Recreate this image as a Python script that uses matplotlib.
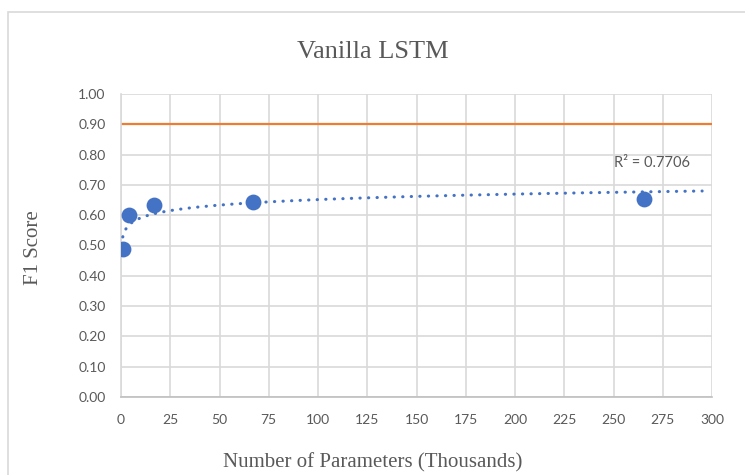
import numpy as np
import matplotlib
matplotlib.use("Agg")
import matplotlib.pyplot as plt
from matplotlib.patches import Rectangle

# data
params_k = [0.9, 4.1, 16.9, 66.8, 265.6]      # Number of Parameters (Thousands)
f1_score = [0.49, 0.60, 0.634, 0.643, 0.652]
target_f1 = 0.90
r2_label = "R² = 0.7706"
x_ticks = list(range(0, 301, 25))
y_ticks = [i / 10 for i in range(11)]

blue = "#4472C4"
orange = "#ED7D31"
grid_c = "#D9D9D9"
text_c = "#595959"
serif = ["Liberation Serif", "DejaVu Serif"]
tickfont = ["Lato", "DejaVu Sans"]

fig = plt.figure(figsize=(7.45, 4.75), dpi=100)
# chart area border (runs off the right/bottom edge like the screenshot)
fig.patches.append(Rectangle((8 / 745, -0.05), 1.0, 1 - 12 / 475 + 0.05,
                             transform=fig.transFigure, fill=False,
                             edgecolor=grid_c, linewidth=1.2))

ax = fig.add_axes([121 / 745, 1 - 397 / 475, 591 / 745, 303 / 475])

# log trendline, like Excel's
b, a = np.polyfit(np.log(params_k), f1_score, 1)
xt = np.linspace(min(params_k), 295, 400)
ax.plot(xt, a + b * np.log(xt), color=blue, lw=2.2,
        linestyle=(0, (0.1, 2.7)), dash_capstyle="round", zorder=3)

ax.axhline(target_f1, color=orange, lw=1.6, zorder=2)
ax.scatter(params_k, f1_score, s=130, color=blue, zorder=4, linewidths=0)

ax.text(250, 0.76, r2_label, fontsize=10.5, color=text_c, family=tickfont)

ax.set_xlim(0, 300)
ax.set_ylim(0, 1)
ax.set_xticks(x_ticks)
ax.set_yticks(y_ticks)
ax.set_yticklabels([f"{v:.2f}" for v in y_ticks])
ax.grid(True, color=grid_c, lw=1.2)
ax.set_axisbelow(True)
ax.tick_params(length=0, colors=text_c, labelsize=10)
ax.tick_params(axis="x", pad=12.5)
ax.tick_params(axis="y", pad=11)
for lab in ax.get_xticklabels() + ax.get_yticklabels():
    lab.set_family(tickfont)
for s in ["top", "right"]:
    ax.spines[s].set_visible(False)
ax.spines["left"].set_color(grid_c)
ax.spines["bottom"].set_color("#BFBFBF")
ax.spines["left"].set_linewidth(1.2)
ax.spines["bottom"].set_linewidth(1.2)

# title and axis titles centred on the chart area, as Excel does
fig.text(0.5, 1 - 52 / 475, "Vanilla LSTM", fontsize=19, color=text_c,
         family=serif, ha="center", va="center")
fig.text(0.5, 1 - 463 / 475, "Number of Parameters (Thousands)", fontsize=15,
         color=text_c, family=serif, ha="center", va="center")
fig.text(33 / 745, 1 - 248 / 475, "F1 Score", fontsize=15, color=text_c,
         family=serif, ha="center", va="center", rotation=90)

fig.savefig("out.png", dpi=100)
